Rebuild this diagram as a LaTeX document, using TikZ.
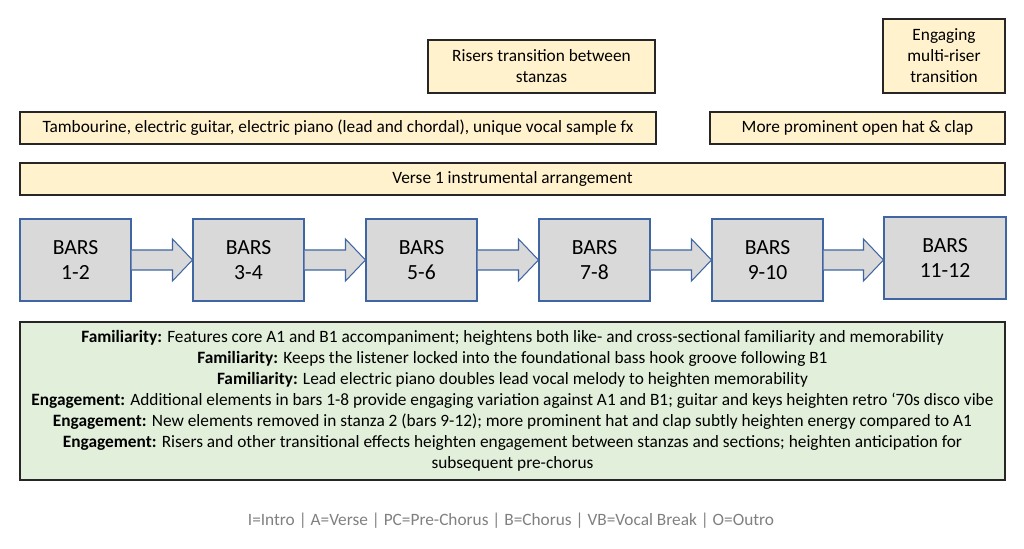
\documentclass[tikz,border=0pt]{standalone}
\usepackage{fontspec}
\setmainfont{Carlito}
\definecolor{notefill}{HTML}{FFF2CC}
\definecolor{evalfill}{HTML}{E2EFDA}
\definecolor{barfill}{HTML}{D9D9D9}
\definecolor{barblue}{HTML}{3F65A3}
\definecolor{legendgray}{HTML}{808080}
\usetikzlibrary{calc}

\begin{document}
\begin{tikzpicture}[
  every node/.style={font=\fontsize{9.85}{11.9}\selectfont, text=black},
  note/.style={draw=black!85, line width=0.8pt, fill=notefill, align=center,
               inner sep=2pt, font=\fontsize{9.85}{12}\selectfont},
  bar/.style={draw=barblue, line width=0.6pt, fill=barfill, align=center,
              minimum width=2.22cm, minimum height=1.64cm,
              font=\fontsize{12.3}{14.4}\selectfont},
  barrow/.style={draw=barblue, line width=0.6pt, fill=barfill, line join=miter},
  eval/.style={draw=black!85, line width=0.8pt, fill=evalfill, align=center,
               minimum width=19.7cm, minimum height=3.16cm},
]
  \useasboundingbox (0,0) rectangle (20.48,10.96);

  % Annotations above the bars
  \node[note, minimum width=4.54cm, minimum height=1.06cm] (risers) at (10.83, 9.63)
    {Risers transition between\\stanzas};
  \node[note, minimum width=2.44cm, minimum height=1.48cm] (multiriser) at (18.88, 9.84)
    {Engaging\\multi-riser\\transition};
  \node[note, minimum width=12.72cm, minimum height=0.64cm] (instruments) at (6.76, 8.40)
    {Tambourine, electric guitar, electric piano (lead and chordal), unique vocal sample fx};
  \node[note, minimum width=5.9cm, minimum height=0.64cm] (hatclap) at (17.15, 8.40)
    {More prominent open hat \& clap};
  \node[note, minimum width=19.7cm, minimum height=0.64cm] (verse) at (10.25, 7.38)
    {Verse 1 instrumental arrangement};

  % Bars
  \node[bar] (b12) at (1.51, 5.76) {BARS\\1-2};
  \node[bar] (b34) at (4.97, 5.76) {BARS\\3-4};
  \node[bar] (b56) at (8.43, 5.76) {BARS\\5-6};
  \node[bar] (b78) at (11.89, 5.76) {BARS\\7-8};
  \node[bar] (b910) at (15.35, 5.76) {BARS\\9-10};
  \node[bar, minimum width=2.44cm] (b1112) at (18.90, 5.80) {BARS\\11-12};

  % Block arrows between bars
  \foreach \a/\b in {b12/b34, b34/b56, b56/b78, b78/b910, b910/b1112} {
    \coordinate (tip) at (\b.west |- \a.east);
    \draw[barrow] ($(\a.east)+(0,0.2)$) -- ($(tip)+(-0.4,0.2)$)
      -- ($(tip)+(-0.4,0.42)$) -- (tip) -- ($(tip)+(-0.4,-0.42)$)
      -- ($(tip)+(-0.4,-0.2)$) -- ($(\a.east)+(0,-0.2)$);
  }

  % Familiarity and engagement notes
  \node[eval] (effects) at (10.25, 2.94)
    {\textbf{Familiarity:} Features core A1 and B1 accompaniment; heightens both like- and cross-sectional familiarity and memorability\\
     \textbf{Familiarity:} Keeps the listener locked into the foundational bass hook groove following B1\\
     \textbf{Familiarity:} Lead electric piano doubles lead vocal melody to heighten memorability\\
     \textbf{Engagement:} Additional elements in bars 1-8 provide engaging variation against A1 and B1; guitar and keys heighten retro ‘70s disco vibe\\
     \textbf{Engagement:} New elements removed in stanza 2 (bars 9-12); more prominent hat and clap subtly heighten energy compared to A1\\
     \textbf{Engagement:} Risers and other transitional effects heighten engagement between stanzas and sections; heighten anticipation for\\
     subsequent pre-chorus};

  % Legend
  \node[text=legendgray] (legend) at (10.22, 0.54)
    {I=Intro | A=Verse | PC=Pre-Chorus | B=Chorus | VB=Vocal Break | O=Outro};
\end{tikzpicture}
\end{document}
